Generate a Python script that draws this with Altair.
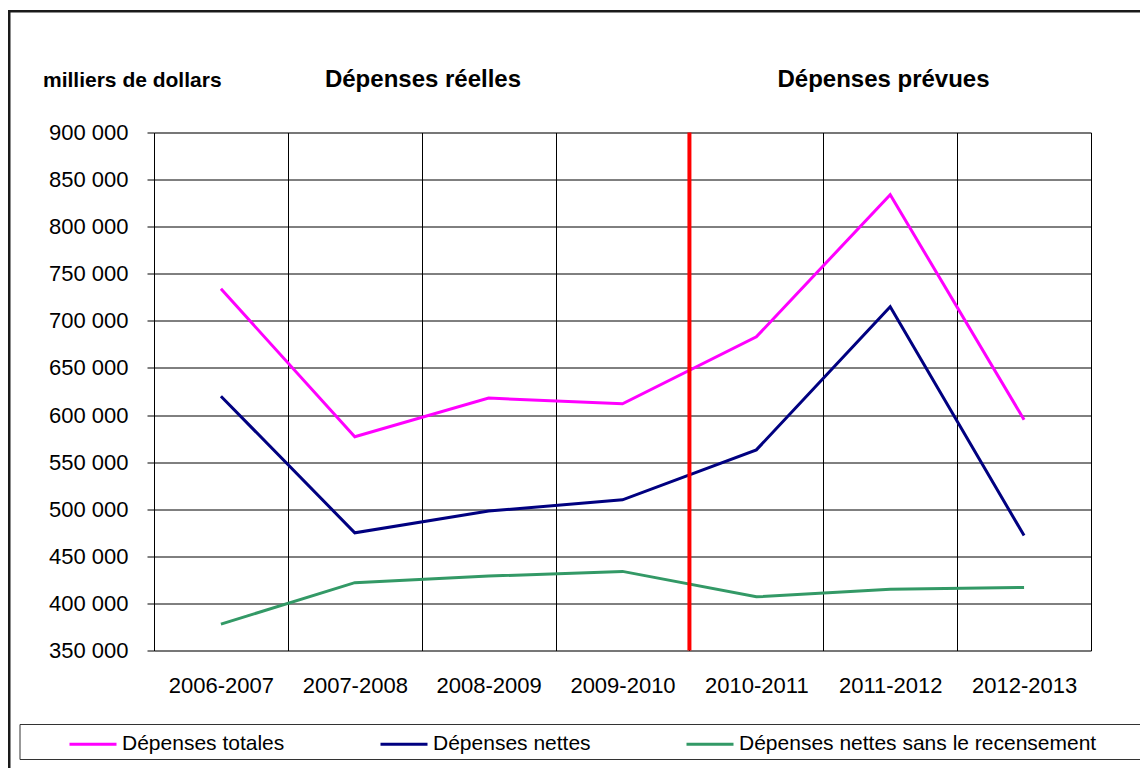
import altair as alt
import pandas as pd

categories = ["2006-2007", "2007-2008", "2008-2009", "2009-2010", "2010-2011", "2011-2012", "2012-2013"]
series_names = ["Dépenses totales", "Dépenses nettes", "Dépenses nettes sans le recensement"]
totales = [734000, 577000, 618000, 612000, 683000, 834000, 595000]
nettes = [620000, 475000, 498000, 510000, 563000, 715000, 472000]
sans_recensement = [378000, 422000, 429000, 434000, 407000, 415000, 417000]
series_colors = ["#FF00FF", "#000080", "#339966"]
y_ticks = [350000, 400000, 450000, 500000, 550000, 600000, 650000, 700000, 750000, 800000, 850000, 900000]
divider_category = ["2010-2011"]

rows = []
for name, vals in zip(series_names, [totales, nettes, sans_recensement]):
    for c, v in zip(categories, vals):
        rows.append({"Année": c, "Série": name, "Valeur": v})
df = pd.DataFrame(rows)

FONT = "Liberation Sans"
W, H = 937, 518

x_enc = alt.X(
    "Année:N",
    sort=categories,
    scale=alt.Scale(type="band", domain=categories, paddingInner=0, paddingOuter=0),
    bandPosition=0.5,
    axis=alt.Axis(
        title=None, labelAngle=0, tickBand="extent", grid=True, gridColor="#000000",
        gridWidth=1, ticks=False, domain=False, labelFont=FONT, labelFontSize=22,
        labelColor="#000000", labelBaseline="middle", labelPadding=35,
    ),
)
y_enc = alt.Y(
    "Valeur:Q",
    scale=alt.Scale(domain=[350000, 900000], nice=False, zero=False),
    axis=alt.Axis(
        title=None, values=y_ticks,
        labelExpr="replace(format(datum.value, ','), ',', ' ')",
        grid=True, gridColor="#000000", gridWidth=1, tickSize=7, tickColor="#000000",
        domainColor="#000000", labelFont=FONT, labelFontSize=22, labelColor="#000000",
        labelPadding=19,
    ),
)

one = pd.DataFrame({"k": [0]})

frame = alt.Chart(one).mark_rect(fill="transparent", stroke="#1a1a1a", strokeWidth=2.5).encode(
    x=alt.value(-144.75), x2=alt.value(1100), y=alt.value(-121.2), y2=alt.value(800)
)
legend_box = alt.Chart(one).mark_rect(fill="transparent", stroke="#333333", strokeWidth=1).encode(
    x=alt.value(-134), x2=alt.value(1100), y=alt.value(592), y2=alt.value(627)
)

lines = alt.Chart(df).mark_line(strokeWidth=3).encode(
    x=x_enc,
    y=y_enc,
    color=alt.Color(
        "Série:N",
        sort=series_names,
        scale=alt.Scale(domain=series_names, range=series_colors),
        legend=alt.Legend(
            orient="none", legendX=-86, legendY=586.7, direction="horizontal", title=None,
            symbolType="stroke", symbolSize=2209, symbolStrokeWidth=3, labelFont=FONT,
            labelFontSize=21, labelColor="#000000", labelOffset=4, columnPadding=89,
            labelLimit=600, padding=0,
        ),
    ),
    detail="Série:N",
)

divider = alt.Chart(pd.DataFrame({"Année": divider_category})).mark_rule(
    color="#FF0000", strokeWidth=4
).encode(x=alt.X("Année:N", sort=categories, bandPosition=0))

unit_text = alt.Chart(one).mark_text(
    text="milliers de dollars", font=FONT, fontSize=21, fontWeight="bold", align="left",
    baseline="alphabetic", color="#000000"
).encode(x=alt.value(-111), y=alt.value(-45.5))
actual_text = alt.Chart(one).mark_text(
    text="Dépenses réelles", font=FONT, fontSize=24, fontWeight="bold", align="center",
    baseline="alphabetic", color="#000000"
).encode(x=alt.value(269), y=alt.value(-45.5))
planned_text = alt.Chart(one).mark_text(
    text="Dépenses prévues", font=FONT, fontSize=24, fontWeight="bold", align="center",
    baseline="alphabetic", color="#000000"
).encode(x=alt.value(729.5), y=alt.value(-45.5))

chart = alt.layer(
    frame, legend_box, lines, divider, unit_text, actual_text, planned_text
).properties(
    width=W, height=H,
    autosize=alt.AutoSizeParams(type="none"),
    padding={"left": 146, "top": 124.5, "right": 49, "bottom": 117.5},
).configure_view(
    stroke="#000000", strokeWidth=1
).configure(background="white")

chart.save("out.html", embed_options={"renderer": "svg", "actions": False})
